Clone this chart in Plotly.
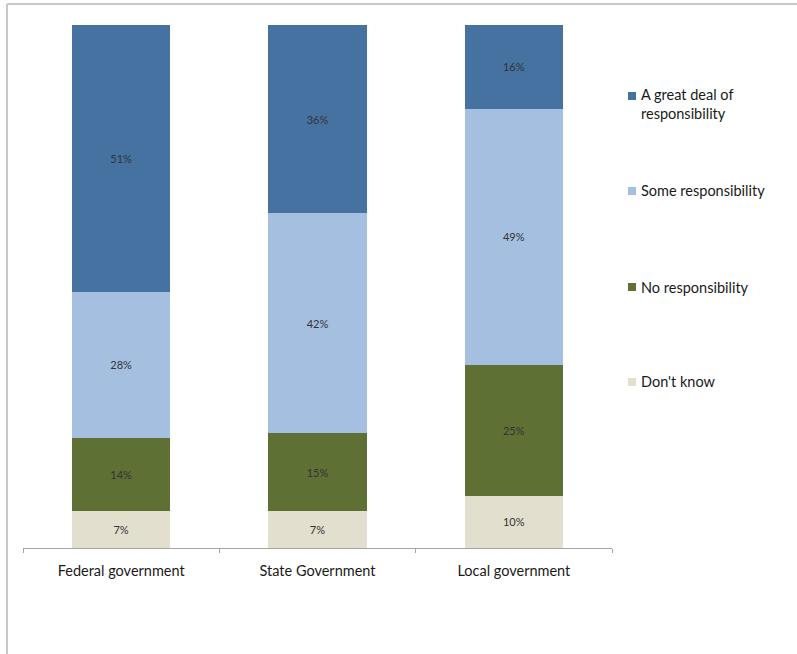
import plotly.graph_objects as go

# Survey shares (percent) by level of government
categories = ["Federal government", "State Government", "Local government"]
dont_know = [7, 7, 10]
no_resp = [14, 15, 25]
some_resp = [28, 42, 49]
great_deal = [51, 36, 16]

series_names = ["Don't know", "No responsibility", "Some responsibility",
                "A great deal of<br>responsibility"]
series_values = [dont_know, no_resp, some_resp, great_deal]
series_colors = ["#e2dfcf", "#5e7034", "#a4bfe0", "#4572a1"]

FONT = "Lato, 'Open Sans', sans-serif"

# Plot-area geometry in pixels
W, H = 797, 654
ML, MR, MT, MB = 23, 185, 25, 106
PW = W - ML - MR
PH = H - MT - MB


def px_x(x):
    return (x - ML) / PW


def px_y(y):
    return (H - MB - y) / PH


fig = go.Figure()
for name, vals, col in zip(series_names, series_values, series_colors):
    fig.add_trace(go.Bar(
        x=categories,
        y=vals,
        name=name,
        marker=dict(color=col, line=dict(width=0)),
        width=0.5,
        text=[f"{v}%" for v in vals],
        textposition="inside",
        insidetextanchor="middle",
        textangle=0,
        textfont=dict(size=11, color="#333333", family=FONT),
        hoverinfo="skip",
    ))

fig.update_layout(
    barmode="stack",
    width=W,
    height=H,
    margin=dict(l=ML, r=MR, t=MT, b=MB, autoexpand=False),
    paper_bgcolor="white",
    plot_bgcolor="white",
    font=dict(family=FONT, size=14, color="#1a1a1a"),
    showlegend=False,
    uniformtext=dict(minsize=10, mode="show"),
    xaxis=dict(
        type="category",
        range=[-0.5, 2.5],
        showline=True,
        linecolor="#a6a6a6",
        linewidth=1,
        ticks="outside",
        tickson="boundaries",
        ticklen=4,
        tickcolor="#a6a6a6",
        ticklabelstandoff=10,
        tickfont=dict(size=14.5, color="#1a1a1a", family=FONT),
        showgrid=False,
        zeroline=False,
    ),
    yaxis=dict(
        range=[0, 100],
        visible=False,
        showgrid=False,
        zeroline=False,
    ),
)

# Key to the right of the bars, top entry first
legend_rows = [104, 191, 287, 382]
for name, col, yc in zip(series_names[::-1], series_colors[::-1], legend_rows):
    sq_y = yc - 8 if "<br>" in name else yc
    fig.add_shape(type="rect", xref="paper", yref="paper",
                  x0=px_x(628), x1=px_x(636),
                  y0=px_y(sq_y + 4), y1=px_y(sq_y - 4),
                  fillcolor=col, line=dict(width=0))
    fig.add_annotation(xref="paper", yref="paper",
                       x=px_x(639), y=px_y(yc),
                       xanchor="left", yanchor="middle", align="left",
                       text=name, showarrow=False,
                       font=dict(size=14.5, color="#1a1a1a", family=FONT))

# Light frame around the chart area (top and left edges)
fig.add_shape(type="line", xref="paper", yref="paper",
              x0=px_x(7), x1=px_x(W + 5), y0=px_y(4), y1=px_y(4),
              line=dict(color="#c8c8c8", width=2))
fig.add_shape(type="line", xref="paper", yref="paper",
              x0=px_x(7), x1=px_x(7), y0=px_y(4), y1=px_y(H + 5),
              line=dict(color="#c8c8c8", width=2))

fig.write_html("out.html")
